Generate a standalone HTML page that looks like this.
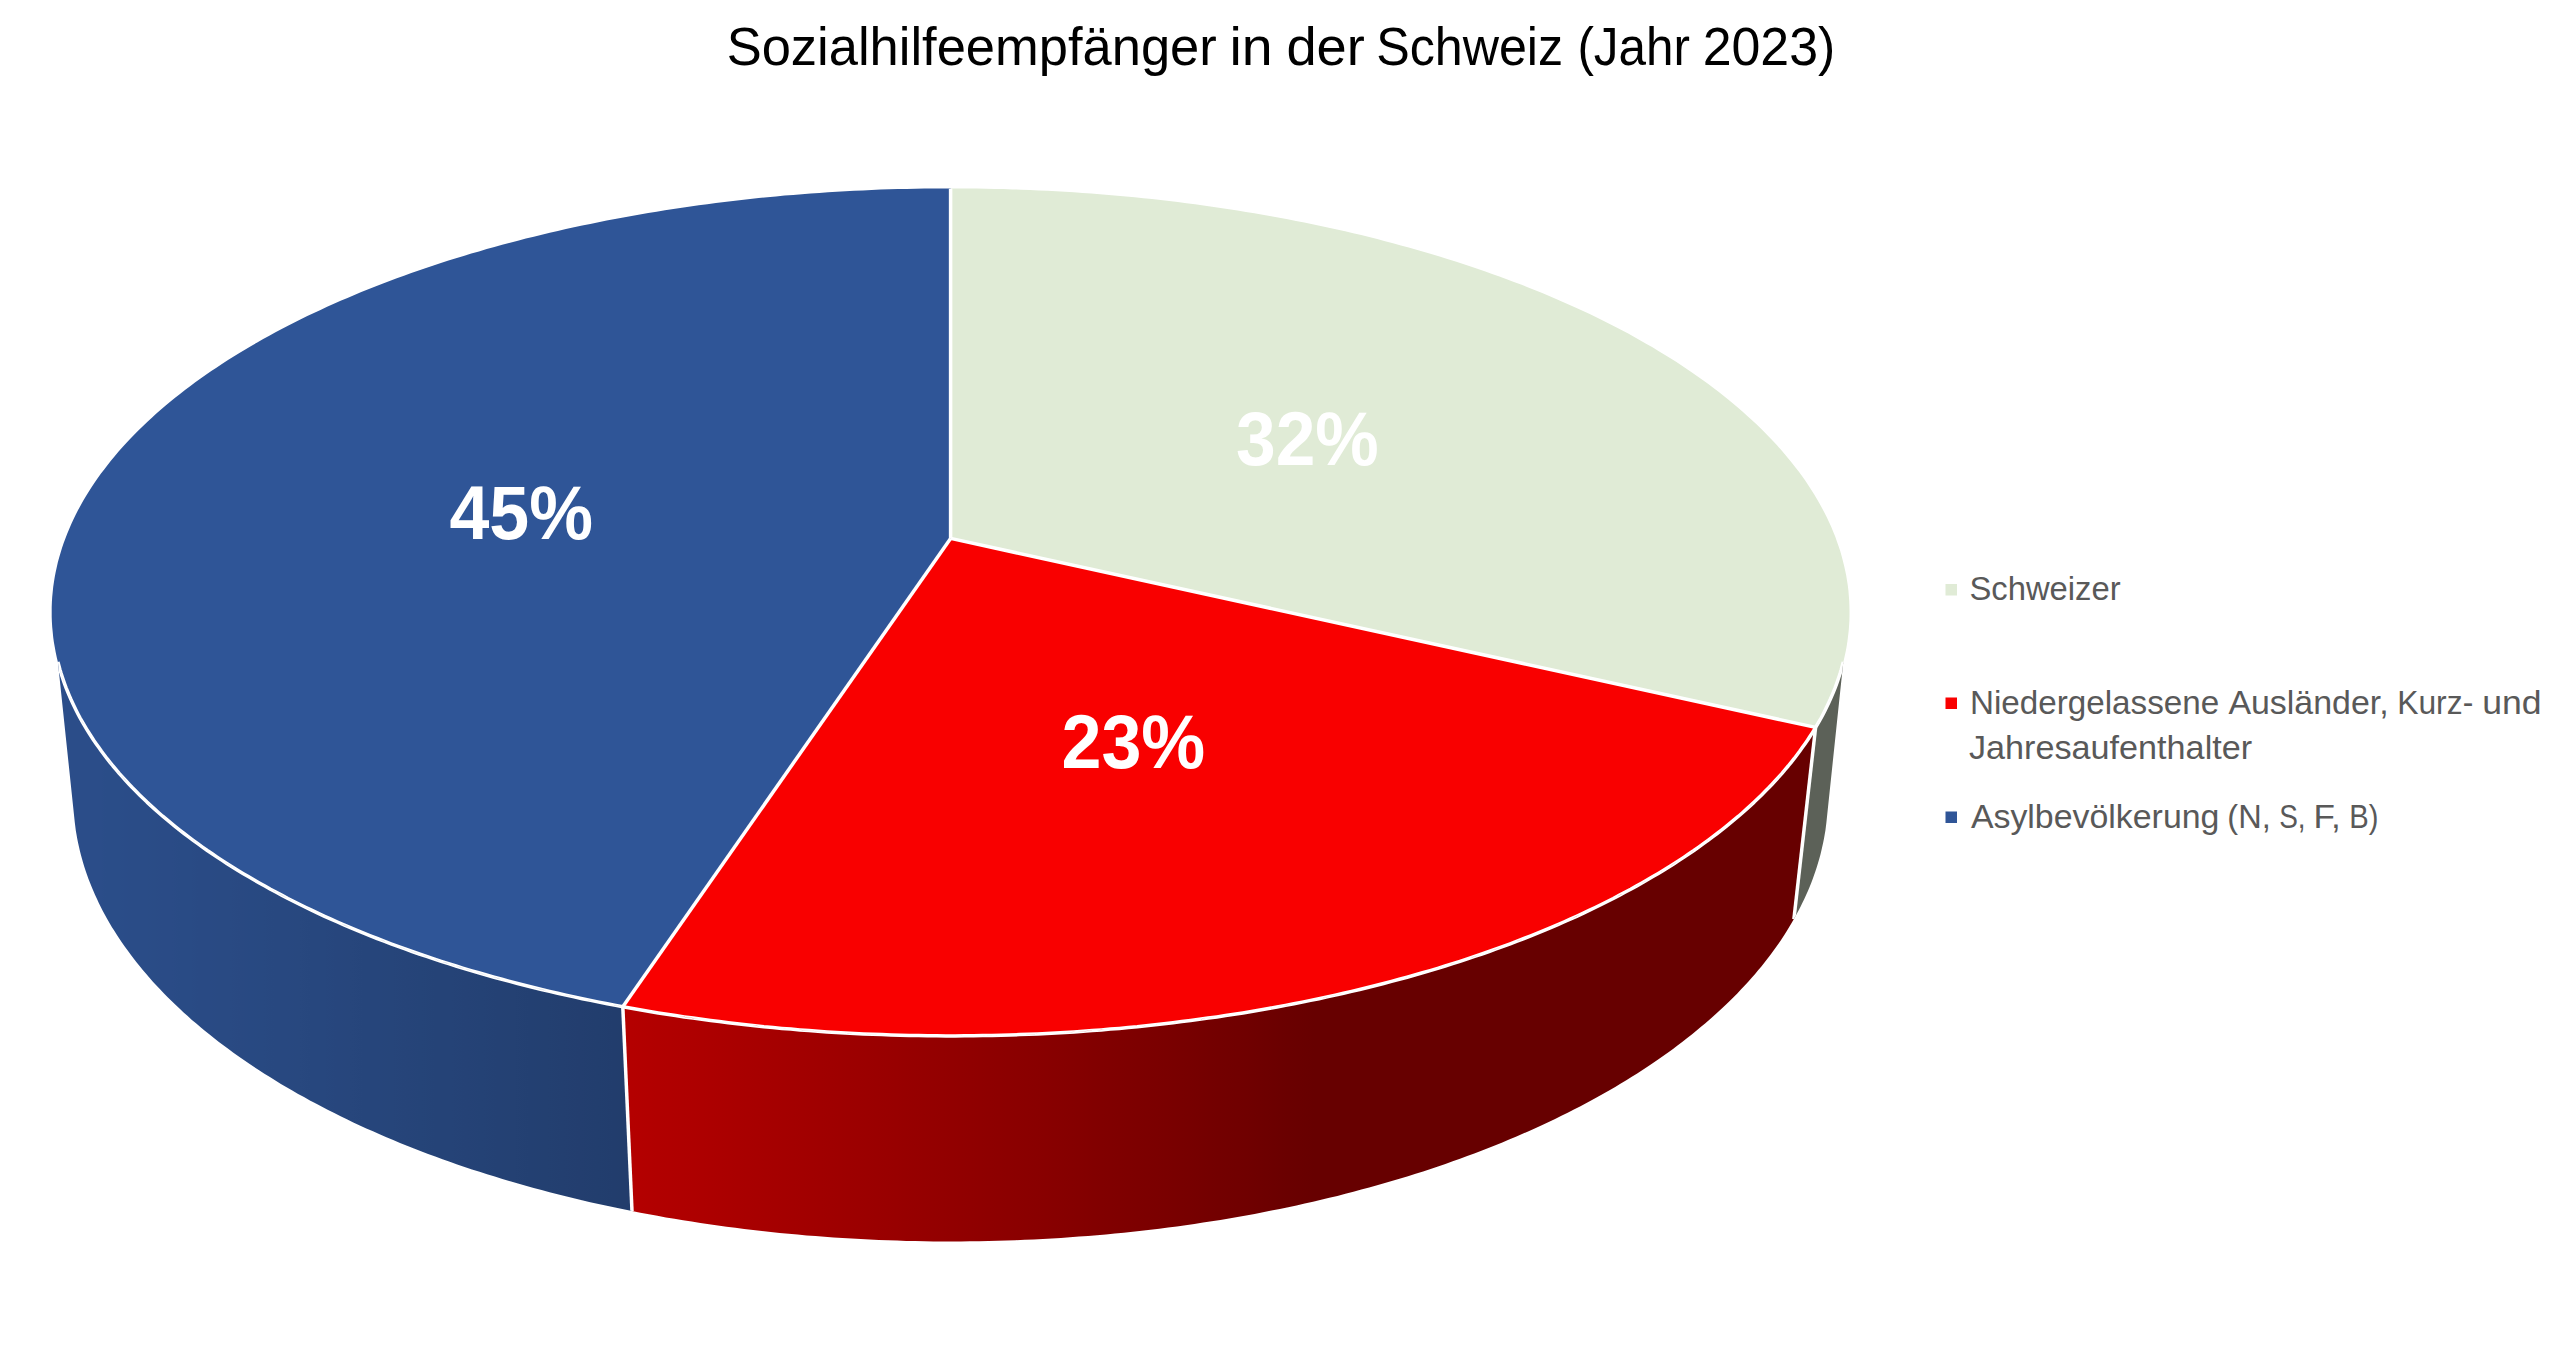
<!DOCTYPE html>
<html><head><meta charset="utf-8">
<style>
html,body{margin:0;padding:0;background:#fff;width:2560px;height:1345px;overflow:hidden}
svg{display:block;position:absolute;left:0;top:0}
text{font-family:"Liberation Sans",sans-serif}
</style></head>
<body>
<svg width="2560" height="1345" viewBox="0 0 2560 1345">
<defs><linearGradient id="g_green" gradientUnits="userSpaceOnUse" x1="1815.6" y1="0" x2="1848.2" y2="0"><stop offset="0.0000" stop-color="#5c6158"/><stop offset="0.0691" stop-color="#5c6158"/><stop offset="0.1359" stop-color="#5c6158"/><stop offset="0.2002" stop-color="#5c6158"/><stop offset="0.2620" stop-color="#5c6158"/><stop offset="0.3215" stop-color="#5c6158"/><stop offset="0.3785" stop-color="#5c6158"/><stop offset="0.4331" stop-color="#5c6158"/><stop offset="0.4853" stop-color="#5c6158"/><stop offset="0.5352" stop-color="#5c6158"/><stop offset="0.5826" stop-color="#5c6158"/><stop offset="0.6277" stop-color="#5c6158"/><stop offset="0.6704" stop-color="#5c6158"/><stop offset="0.7107" stop-color="#5c6158"/><stop offset="0.7486" stop-color="#5c6158"/><stop offset="0.7842" stop-color="#5c6158"/><stop offset="0.8175" stop-color="#5c6158"/><stop offset="0.8484" stop-color="#5c6158"/><stop offset="0.8770" stop-color="#5c6158"/><stop offset="0.9032" stop-color="#5c6158"/><stop offset="0.9272" stop-color="#5c6158"/><stop offset="0.9488" stop-color="#5c6158"/><stop offset="0.9682" stop-color="#5c6158"/><stop offset="0.9852" stop-color="#5c6158"/><stop offset="1.0000" stop-color="#5c6158"/><stop offset="1.0000" stop-color="#5c6158"/></linearGradient><linearGradient id="g_red" gradientUnits="userSpaceOnUse" x1="622.8" y1="0" x2="1815.6" y2="0"><stop offset="0.0000" stop-color="#b50000"/><stop offset="0.0293" stop-color="#b10000"/><stop offset="0.0590" stop-color="#ae0000"/><stop offset="0.0892" stop-color="#aa0000"/><stop offset="0.1197" stop-color="#a60000"/><stop offset="0.1506" stop-color="#a20000"/><stop offset="0.1817" stop-color="#9e0000"/><stop offset="0.2129" stop-color="#9a0000"/><stop offset="0.2443" stop-color="#960000"/><stop offset="0.2758" stop-color="#920000"/><stop offset="0.3073" stop-color="#8e0000"/><stop offset="0.3387" stop-color="#8a0000"/><stop offset="0.3699" stop-color="#860000"/><stop offset="0.4010" stop-color="#810000"/><stop offset="0.4318" stop-color="#7d0000"/><stop offset="0.4624" stop-color="#790000"/><stop offset="0.4925" stop-color="#740000"/><stop offset="0.5222" stop-color="#700000"/><stop offset="0.5515" stop-color="#6b0000"/><stop offset="0.5801" stop-color="#670000"/><stop offset="0.6083" stop-color="#670000"/><stop offset="0.6357" stop-color="#670000"/><stop offset="0.6625" stop-color="#670000"/><stop offset="0.6885" stop-color="#670000"/><stop offset="0.7138" stop-color="#670000"/><stop offset="0.7383" stop-color="#670000"/><stop offset="0.7619" stop-color="#670000"/><stop offset="0.7846" stop-color="#670000"/><stop offset="0.8064" stop-color="#670000"/><stop offset="0.8273" stop-color="#670000"/><stop offset="0.8472" stop-color="#670000"/><stop offset="0.8661" stop-color="#670000"/><stop offset="0.8840" stop-color="#670000"/><stop offset="0.9009" stop-color="#670000"/><stop offset="0.9167" stop-color="#670000"/><stop offset="0.9315" stop-color="#670000"/><stop offset="0.9453" stop-color="#670000"/><stop offset="0.9580" stop-color="#670000"/><stop offset="0.9696" stop-color="#670000"/><stop offset="0.9801" stop-color="#670000"/><stop offset="0.9896" stop-color="#670000"/><stop offset="0.9981" stop-color="#670000"/><stop offset="1.0000" stop-color="#670000"/></linearGradient><linearGradient id="g_blue" gradientUnits="userSpaceOnUse" x1="53.0" y1="0" x2="622.8" y2="0"><stop offset="0.0000" stop-color="#2b4d89"/><stop offset="0.0018" stop-color="#2b4d89"/><stop offset="0.0041" stop-color="#2b4d89"/><stop offset="0.0070" stop-color="#2b4d89"/><stop offset="0.0104" stop-color="#2b4d89"/><stop offset="0.0143" stop-color="#2b4d89"/><stop offset="0.0188" stop-color="#2b4d89"/><stop offset="0.0238" stop-color="#2b4d89"/><stop offset="0.0293" stop-color="#2b4d89"/><stop offset="0.0354" stop-color="#2b4d89"/><stop offset="0.0420" stop-color="#2b4d89"/><stop offset="0.0492" stop-color="#2b4d89"/><stop offset="0.0569" stop-color="#2b4d89"/><stop offset="0.0652" stop-color="#2b4d89"/><stop offset="0.0740" stop-color="#2b4d89"/><stop offset="0.0834" stop-color="#2b4d89"/><stop offset="0.0934" stop-color="#2a4d88"/><stop offset="0.1039" stop-color="#2a4d88"/><stop offset="0.1150" stop-color="#2a4d88"/><stop offset="0.1266" stop-color="#2a4c88"/><stop offset="0.1388" stop-color="#2a4c87"/><stop offset="0.1516" stop-color="#2a4c87"/><stop offset="0.1649" stop-color="#2a4c87"/><stop offset="0.1788" stop-color="#2a4c86"/><stop offset="0.1932" stop-color="#2a4b86"/><stop offset="0.2082" stop-color="#2a4b86"/><stop offset="0.2238" stop-color="#294b85"/><stop offset="0.2399" stop-color="#294b85"/><stop offset="0.2565" stop-color="#294a84"/><stop offset="0.2737" stop-color="#294a84"/><stop offset="0.2915" stop-color="#294a83"/><stop offset="0.3098" stop-color="#294a83"/><stop offset="0.3286" stop-color="#294982"/><stop offset="0.3480" stop-color="#284982"/><stop offset="0.3678" stop-color="#284981"/><stop offset="0.3883" stop-color="#284880"/><stop offset="0.4092" stop-color="#284880"/><stop offset="0.4306" stop-color="#28487f"/><stop offset="0.4526" stop-color="#27477e"/><stop offset="0.4750" stop-color="#27477e"/><stop offset="0.4980" stop-color="#27467d"/><stop offset="0.5214" stop-color="#27467c"/><stop offset="0.5453" stop-color="#26457b"/><stop offset="0.5697" stop-color="#26457b"/><stop offset="0.5945" stop-color="#26457a"/><stop offset="0.6198" stop-color="#264479"/><stop offset="0.6455" stop-color="#254478"/><stop offset="0.6717" stop-color="#254377"/><stop offset="0.6982" stop-color="#254377"/><stop offset="0.7252" stop-color="#254276"/><stop offset="0.7526" stop-color="#244275"/><stop offset="0.7804" stop-color="#244174"/><stop offset="0.8086" stop-color="#244173"/><stop offset="0.8371" stop-color="#234072"/><stop offset="0.8660" stop-color="#234071"/><stop offset="0.8952" stop-color="#233f70"/><stop offset="0.9248" stop-color="#233e6f"/><stop offset="0.9546" stop-color="#223e6e"/><stop offset="0.9848" stop-color="#223d6d"/><stop offset="1.0000" stop-color="#223d6c"/></linearGradient><clipPath id="pieclip"><polygon points="950.6,188.4 957.2,188.4 963.8,188.4 970.3,188.5 976.9,188.5 983.5,188.6 990.1,188.8 996.7,188.9 1003.2,189.1 1009.8,189.3 1016.4,189.5 1022.9,189.7 1029.5,190.0 1036.0,190.3 1042.6,190.6 1049.2,190.9 1055.7,191.3 1062.2,191.6 1068.8,192.0 1075.3,192.5 1081.8,192.9 1088.4,193.4 1094.9,193.9 1101.4,194.4 1107.9,194.9 1114.4,195.4 1120.9,196.0 1127.4,196.6 1133.8,197.3 1140.3,197.9 1146.8,198.6 1153.2,199.3 1159.7,200.0 1166.1,200.7 1172.5,201.5 1178.9,202.3 1185.3,203.1 1191.7,203.9 1198.1,204.7 1204.5,205.6 1210.8,206.5 1217.2,207.4 1223.5,208.4 1229.9,209.3 1236.2,210.3 1242.5,211.3 1248.8,212.3 1255.0,213.4 1261.3,214.5 1267.6,215.6 1273.8,216.7 1280.0,217.8 1286.2,219.0 1292.4,220.2 1298.6,221.4 1304.7,222.6 1310.9,223.9 1317.0,225.2 1323.1,226.5 1329.2,227.8 1335.3,229.1 1341.4,230.5 1347.4,231.9 1353.4,233.3 1359.4,234.7 1365.4,236.2 1371.4,237.6 1377.3,239.1 1383.3,240.7 1389.2,242.2 1395.0,243.8 1400.9,245.4 1406.8,247.0 1412.6,248.6 1418.4,250.3 1424.2,251.9 1429.9,253.6 1435.7,255.3 1441.4,257.1 1447.1,258.8 1452.7,260.6 1458.4,262.4 1464.0,264.3 1469.6,266.1 1475.2,268.0 1480.7,269.9 1486.2,271.8 1491.7,273.7 1497.2,275.7 1502.6,277.7 1508.0,279.7 1513.4,281.7 1518.8,283.7 1524.1,285.8 1529.4,287.9 1534.7,290.0 1539.9,292.1 1545.1,294.3 1550.3,296.4 1555.4,298.6 1560.6,300.8 1565.7,303.1 1570.7,305.3 1575.7,307.6 1580.7,309.9 1585.7,312.2 1590.6,314.5 1595.5,316.9 1600.4,319.3 1605.2,321.7 1610.0,324.1 1614.7,326.5 1619.5,329.0 1624.2,331.5 1628.8,334.0 1633.4,336.5 1638.0,339.0 1642.5,341.6 1647.0,344.2 1651.5,346.8 1655.9,349.4 1660.3,352.0 1664.7,354.7 1669.0,357.4 1673.2,360.1 1677.5,362.8 1681.6,365.5 1685.8,368.3 1689.9,371.0 1694.0,373.8 1698.0,376.6 1702.0,379.5 1705.9,382.3 1709.8,385.2 1713.6,388.1 1717.4,391.0 1721.2,393.9 1724.9,396.8 1728.6,399.8 1732.2,402.8 1735.8,405.8 1739.3,408.8 1742.8,411.8 1746.2,414.9 1749.6,417.9 1752.9,421.0 1756.2,424.1 1759.4,427.2 1762.6,430.3 1765.8,433.5 1768.9,436.7 1771.9,439.8 1774.9,443.0 1777.8,446.2 1780.7,449.5 1783.5,452.7 1786.3,456.0 1789.0,459.3 1791.7,462.5 1794.3,465.8 1796.8,469.2 1799.3,472.5 1801.8,475.9 1804.2,479.2 1806.5,482.6 1808.8,486.0 1811.0,489.4 1813.2,492.8 1815.3,496.2 1817.3,499.7 1819.3,503.2 1821.2,506.6 1823.1,510.1 1824.9,513.6 1826.7,517.1 1828.3,520.6 1830.0,524.2 1831.5,527.7 1833.0,531.3 1834.5,534.9 1835.8,538.4 1837.2,542.0 1838.4,545.6 1839.6,549.2 1840.7,552.9 1841.8,556.5 1842.8,560.1 1843.7,563.8 1844.5,567.5 1845.3,571.1 1846.0,574.8 1846.7,578.5 1847.3,582.2 1847.8,585.9 1848.3,589.6 1848.7,593.3 1849.0,597.1 1849.2,600.8 1849.4,604.5 1849.5,608.3 1849.5,612.0 1849.5,615.8 1849.4,619.5 1849.2,623.3 1849.0,627.1 1848.7,630.9 1848.3,634.6 1847.8,638.4 1847.3,642.2 1846.7,646.0 1846.0,649.8 1845.2,653.6 1844.4,657.4 1843.5,661.2 1842.5,665.0 1841.5,668.8 1840.3,672.6 1839.1,676.5 1837.8,680.3 1836.5,684.1 1835.1,687.9 1833.6,691.7 1832.0,695.5 1830.3,699.3 1828.6,703.1 1826.8,706.9 1824.9,710.7 1822.9,714.5 1820.9,718.3 1818.7,722.1 1816.5,725.9 1814.3,729.7 1811.9,733.5 1809.5,737.2 1807.0,741.0 1804.4,744.8 1801.7,748.5 1799.0,752.3 1796.1,756.0 1793.2,759.8 1790.2,763.5 1787.2,767.2 1784.0,770.9 1780.8,774.6 1777.5,778.3 1774.1,782.0 1770.7,785.7 1767.2,789.3 1763.5,793.0 1759.9,796.6 1756.1,800.3 1752.2,803.9 1748.3,807.5 1744.3,811.1 1740.2,814.7 1736.1,818.2 1731.8,821.8 1727.5,825.3 1723.1,828.8 1718.6,832.3 1714.1,835.8 1709.4,839.3 1704.7,842.8 1699.9,846.2 1695.1,849.6 1690.1,853.0 1685.1,856.4 1680.0,859.8 1674.9,863.1 1669.6,866.5 1664.3,869.8 1658.9,873.1 1653.5,876.3 1647.9,879.6 1642.3,882.8 1636.6,886.0 1630.8,889.2 1625.0,892.3 1619.1,895.4 1613.1,898.5 1607.1,901.6 1600.9,904.7 1594.7,907.7 1588.5,910.7 1582.1,913.7 1575.7,916.6 1569.3,919.6 1562.7,922.5 1556.1,925.3 1549.4,928.2 1542.7,931.0 1535.9,933.8 1529.0,936.5 1522.1,939.2 1515.1,941.9 1508.0,944.6 1500.8,947.2 1493.7,949.8 1486.4,952.4 1479.1,954.9 1471.7,957.4 1464.3,959.9 1456.8,962.3 1449.2,964.7 1441.6,967.1 1433.9,969.4 1426.2,971.7 1418.4,974.0 1410.5,976.2 1402.7,978.4 1394.7,980.6 1386.7,982.7 1378.7,984.8 1370.6,986.8 1362.4,988.8 1354.2,990.8 1346.0,992.7 1337.7,994.6 1329.3,996.4 1320.9,998.3 1312.5,1000.0 1304.0,1001.8 1295.5,1003.5 1287.0,1005.1 1278.4,1006.7 1269.7,1008.3 1261.0,1009.8 1252.3,1011.3 1243.6,1012.8 1234.8,1014.2 1226.0,1015.5 1217.1,1016.8 1208.2,1018.1 1199.3,1019.4 1190.4,1020.5 1181.4,1021.7 1172.4,1022.8 1163.3,1023.9 1154.3,1024.9 1145.2,1025.8 1136.1,1026.8 1127.0,1027.7 1117.8,1028.5 1108.6,1029.3 1099.4,1030.0 1090.2,1030.7 1081.0,1031.4 1071.7,1032.0 1062.5,1032.6 1053.2,1033.1 1043.9,1033.6 1034.6,1034.0 1025.3,1034.4 1016.0,1034.8 1006.7,1035.1 997.3,1035.3 988.0,1035.5 978.6,1035.7 969.3,1035.8 960.0,1035.9 950.6,1035.9 941.2,1035.9 931.9,1035.8 922.6,1035.7 913.2,1035.5 903.9,1035.3 894.5,1035.1 885.2,1034.8 875.9,1034.4 866.6,1034.0 857.3,1033.6 848.0,1033.1 838.7,1032.6 829.5,1032.0 820.2,1031.4 811.0,1030.7 801.8,1030.0 792.6,1029.3 783.4,1028.5 774.2,1027.7 765.1,1026.8 756.0,1025.8 746.9,1024.9 737.9,1023.9 728.8,1022.8 719.8,1021.7 710.8,1020.5 701.9,1019.4 693.0,1018.1 684.1,1016.8 675.2,1015.5 666.4,1014.2 657.6,1012.8 648.9,1011.3 640.2,1009.8 631.5,1008.3 622.8,1006.7 614.2,1005.1 605.7,1003.5 597.2,1001.8 588.7,1000.0 580.3,998.3 571.9,996.4 563.5,994.6 555.2,992.7 547.0,990.8 538.8,988.8 530.6,986.8 522.5,984.8 514.5,982.7 506.5,980.6 498.5,978.4 490.7,976.2 482.8,974.0 475.0,971.7 467.3,969.4 459.6,967.1 452.0,964.7 444.4,962.3 436.9,959.9 429.5,957.4 422.1,954.9 414.8,952.4 407.5,949.8 400.4,947.2 393.2,944.6 386.1,941.9 379.1,939.2 372.2,936.5 365.3,933.8 358.5,931.0 351.8,928.2 345.1,925.3 338.5,922.5 331.9,919.6 325.5,916.6 319.1,913.7 312.7,910.7 306.5,907.7 300.3,904.7 294.1,901.6 288.1,898.5 282.1,895.4 276.2,892.3 270.4,889.2 264.6,886.0 258.9,882.8 253.3,879.6 247.7,876.3 242.3,873.1 236.9,869.8 231.6,866.5 226.3,863.1 221.2,859.8 216.1,856.4 211.1,853.0 206.1,849.6 201.3,846.2 196.5,842.8 191.8,839.3 187.1,835.8 182.6,832.3 178.1,828.8 173.7,825.3 169.4,821.8 165.1,818.2 161.0,814.7 156.9,811.1 152.9,807.5 149.0,803.9 145.1,800.3 141.3,796.6 137.7,793.0 134.0,789.3 130.5,785.7 127.1,782.0 123.7,778.3 120.4,774.6 117.2,770.9 114.0,767.2 111.0,763.5 108.0,759.8 105.1,756.0 102.2,752.3 99.5,748.5 96.8,744.8 94.2,741.0 91.7,737.2 89.3,733.5 86.9,729.7 84.7,725.9 82.5,722.1 80.3,718.3 78.3,714.5 76.3,710.7 74.4,706.9 72.6,703.1 70.9,699.3 69.2,695.5 67.6,691.7 66.1,687.9 64.7,684.1 63.4,680.3 62.1,676.5 60.9,672.6 59.7,668.8 58.7,665.0 57.7,661.2 56.8,657.4 56.0,653.6 55.2,649.8 54.5,646.0 53.9,642.2 53.4,638.4 52.9,634.6 52.5,630.9 52.2,627.1 52.0,623.3 51.8,619.5 51.7,615.8 51.7,612.0 51.7,608.3 51.8,604.5 52.0,600.8 52.2,597.1 52.5,593.3 52.9,589.6 53.4,585.9 53.9,582.2 54.5,578.5 55.2,574.8 55.9,571.1 56.7,567.5 57.5,563.8 58.4,560.1 59.4,556.5 60.5,552.9 61.6,549.2 62.8,545.6 64.0,542.0 65.4,538.4 66.7,534.9 68.2,531.3 69.7,527.7 71.2,524.2 72.9,520.6 74.5,517.1 76.3,513.6 78.1,510.1 80.0,506.6 81.9,503.2 83.9,499.7 85.9,496.2 88.0,492.8 90.2,489.4 92.4,486.0 94.7,482.6 97.0,479.2 99.4,475.9 101.9,472.5 104.4,469.2 106.9,465.8 109.5,462.5 112.2,459.3 114.9,456.0 117.7,452.7 120.5,449.5 123.4,446.2 126.3,443.0 129.3,439.8 132.3,436.7 135.4,433.5 138.6,430.3 141.8,427.2 145.0,424.1 148.3,421.0 151.6,417.9 155.0,414.9 158.4,411.8 161.9,408.8 165.4,405.8 169.0,402.8 172.6,399.8 176.3,396.8 180.0,393.9 183.8,391.0 187.6,388.1 191.4,385.2 195.3,382.3 199.2,379.5 203.2,376.6 207.2,373.8 211.3,371.0 215.4,368.3 219.6,365.5 223.7,362.8 228.0,360.1 232.2,357.4 236.5,354.7 240.9,352.0 245.3,349.4 249.7,346.8 254.2,344.2 258.7,341.6 263.2,339.0 267.8,336.5 272.4,334.0 277.0,331.5 281.7,329.0 286.5,326.5 291.2,324.1 296.0,321.7 300.8,319.3 305.7,316.9 310.6,314.5 315.5,312.2 320.5,309.9 325.5,307.6 330.5,305.3 335.5,303.1 340.6,300.8 345.8,298.6 350.9,296.4 356.1,294.3 361.3,292.1 366.5,290.0 371.8,287.9 377.1,285.8 382.4,283.7 387.8,281.7 393.2,279.7 398.6,277.7 404.0,275.7 409.5,273.7 415.0,271.8 420.5,269.9 426.0,268.0 431.6,266.1 437.2,264.3 442.8,262.4 448.5,260.6 454.1,258.8 459.8,257.1 465.5,255.3 471.3,253.6 477.0,251.9 482.8,250.3 488.6,248.6 494.4,247.0 500.3,245.4 506.2,243.8 512.0,242.2 517.9,240.7 523.9,239.1 529.8,237.6 535.8,236.2 541.8,234.7 547.8,233.3 553.8,231.9 559.8,230.5 565.9,229.1 572.0,227.8 578.1,226.5 584.2,225.2 590.3,223.9 596.5,222.6 602.6,221.4 608.8,220.2 615.0,219.0 621.2,217.8 627.4,216.7 633.6,215.6 639.9,214.5 646.2,213.4 652.4,212.3 658.7,211.3 665.0,210.3 671.3,209.3 677.7,208.4 684.0,207.4 690.4,206.5 696.7,205.6 703.1,204.7 709.5,203.9 715.9,203.1 722.3,202.3 728.7,201.5 735.1,200.7 741.5,200.0 748.0,199.3 754.4,198.6 760.9,197.9 767.4,197.3 773.8,196.6 780.3,196.0 786.8,195.4 793.3,194.9 799.8,194.4 806.3,193.9 812.8,193.4 819.4,192.9 825.9,192.5 832.4,192.0 839.0,191.6 845.5,191.3 852.0,190.9 858.6,190.6 865.2,190.3 871.7,190.0 878.3,189.7 884.8,189.5 891.4,189.3 898.0,189.1 904.5,188.9 911.1,188.8 917.7,188.6 924.3,188.5 930.9,188.5 937.4,188.4 944.0,188.4 950.6,188.4"/><polygon points="1843.3,661.9 1842.6,664.6 1841.9,667.4 1841.1,670.1 1840.3,672.8 1839.4,675.6 1838.5,678.3 1837.6,681.0 1836.6,683.8 1835.6,686.5 1834.5,689.2 1833.4,692.0 1832.3,694.7 1831.1,697.4 1829.9,700.2 1828.7,702.9 1827.4,705.6 1826.1,708.3 1824.7,711.1 1823.3,713.8 1821.8,716.5 1820.3,719.2 1818.8,722.0 1817.2,724.7 1815.6,727.4 1793.9,919.1 1796.1,915.1 1798.3,911.1 1800.4,907.1 1802.3,903.0 1804.3,899.0 1806.1,895.0 1807.9,891.0 1809.6,886.9 1811.2,882.9 1812.7,878.9 1814.2,874.8 1815.6,870.8 1816.9,866.8 1818.1,862.7 1819.3,858.7 1820.4,854.7 1821.4,850.6 1822.3,846.6 1823.2,842.6 1824.0,838.6 1824.7,834.5 1825.4,830.5 1825.9,826.5 1826.4,822.5"/><polygon points="1815.6,727.4 1813.3,731.2 1810.9,735.0 1808.5,738.8 1805.9,742.6 1803.3,746.3 1800.6,750.1 1797.8,753.9 1794.9,757.6 1791.9,761.4 1788.9,765.1 1785.8,768.8 1782.6,772.6 1779.4,776.3 1776.0,780.0 1772.6,783.7 1769.1,787.4 1765.5,791.0 1761.8,794.7 1758.1,798.3 1754.3,802.0 1750.4,805.6 1746.4,809.2 1742.3,812.8 1738.2,816.4 1734.0,820.0 1729.7,823.5 1725.3,827.1 1720.9,830.6 1716.3,834.1 1711.7,837.6 1707.0,841.1 1702.3,844.5 1697.4,848.0 1692.5,851.4 1687.5,854.8 1682.4,858.2 1677.3,861.6 1672.1,864.9 1666.8,868.3 1661.4,871.6 1655.9,874.8 1650.4,878.1 1644.8,881.4 1639.1,884.6 1633.4,887.8 1627.5,890.9 1621.6,894.1 1615.7,897.2 1609.6,900.3 1603.5,903.4 1597.3,906.5 1591.1,909.5 1584.7,912.5 1578.3,915.5 1571.9,918.4 1565.3,921.3 1558.7,924.2 1552.0,927.1 1545.3,929.9 1538.5,932.7 1531.6,935.5 1524.7,938.2 1517.7,940.9 1510.6,943.6 1503.5,946.3 1496.2,948.9 1489.0,951.5 1481.7,954.0 1474.3,956.6 1466.8,959.0 1459.3,961.5 1451.8,963.9 1444.1,966.3 1436.4,968.7 1428.7,971.0 1420.9,973.3 1413.1,975.5 1405.2,977.7 1397.2,979.9 1389.2,982.0 1381.1,984.1 1373.0,986.2 1364.8,988.2 1356.6,990.2 1348.4,992.1 1340.1,994.1 1331.7,995.9 1323.3,997.8 1314.8,999.5 1306.3,1001.3 1297.8,1003.0 1289.2,1004.7 1280.6,1006.3 1272.0,1007.9 1263.3,1009.4 1254.5,1010.9 1245.7,1012.4 1236.9,1013.8 1228.1,1015.2 1219.2,1016.5 1210.3,1017.8 1201.4,1019.1 1192.4,1020.3 1183.4,1021.4 1174.3,1022.6 1165.3,1023.6 1156.2,1024.7 1147.1,1025.6 1137.9,1026.6 1128.8,1027.5 1119.6,1028.3 1110.4,1029.1 1101.2,1029.9 1091.9,1030.6 1082.7,1031.3 1073.4,1031.9 1064.1,1032.5 1054.8,1033.0 1045.5,1033.5 1036.1,1034.0 1026.8,1034.4 1017.4,1034.7 1008.1,1035.0 998.7,1035.3 989.4,1035.5 980.0,1035.7 970.6,1035.8 961.2,1035.9 951.8,1035.9 942.4,1035.9 933.1,1035.8 923.7,1035.7 914.3,1035.5 904.9,1035.3 895.6,1035.1 886.2,1034.8 876.8,1034.5 867.5,1034.1 858.2,1033.6 848.8,1033.2 839.5,1032.6 830.2,1032.1 821.0,1031.5 811.7,1030.8 802.4,1030.1 793.2,1029.3 784.0,1028.6 774.8,1027.7 765.6,1026.8 756.5,1025.9 747.4,1024.9 738.3,1023.9 729.2,1022.8 720.2,1021.7 711.2,1020.6 702.2,1019.4 693.2,1018.2 684.3,1016.9 675.4,1015.5 666.6,1014.2 657.8,1012.8 649.0,1011.3 640.2,1009.8 631.5,1008.3 622.8,1006.7 632.0,1211.0 640.4,1212.7 648.9,1214.3 657.4,1215.8 665.9,1217.4 674.5,1218.8 683.1,1220.2 691.7,1221.6 700.4,1223.0 709.1,1224.2 717.9,1225.5 726.6,1226.7 735.4,1227.8 744.2,1228.9 753.1,1230.0 761.9,1231.0 770.8,1232.0 779.7,1232.9 788.7,1233.8 797.6,1234.6 806.6,1235.4 815.6,1236.1 824.6,1236.8 833.6,1237.5 842.6,1238.1 851.7,1238.6 860.8,1239.1 869.8,1239.5 878.9,1239.9 888.0,1240.3 897.1,1240.6 906.2,1240.9 915.3,1241.1 924.4,1241.2 933.5,1241.4 942.7,1241.4 951.8,1241.4 960.9,1241.4 970.0,1241.3 979.1,1241.2 988.3,1241.0 997.4,1240.8 1006.5,1240.5 1015.6,1240.2 1024.7,1239.8 1033.7,1239.4 1042.8,1239.0 1051.9,1238.5 1060.9,1237.9 1069.9,1237.3 1079.0,1236.6 1088.0,1235.9 1097.0,1235.2 1105.9,1234.4 1114.9,1233.6 1123.8,1232.7 1132.7,1231.7 1141.6,1230.8 1150.4,1229.7 1159.3,1228.7 1168.1,1227.5 1176.9,1226.4 1185.6,1225.2 1194.4,1223.9 1203.1,1222.6 1211.7,1221.3 1220.4,1219.9 1229.0,1218.4 1237.5,1217.0 1246.1,1215.4 1254.6,1213.9 1263.0,1212.3 1271.4,1210.6 1279.8,1208.9 1288.2,1207.2 1296.5,1205.4 1304.7,1203.6 1313.0,1201.7 1321.1,1199.8 1329.3,1197.8 1337.4,1195.9 1345.4,1193.8 1353.4,1191.7 1361.3,1189.6 1369.2,1187.5 1377.1,1185.3 1384.9,1183.1 1392.6,1180.8 1400.3,1178.5 1408.0,1176.2 1415.6,1173.8 1423.1,1171.4 1430.6,1168.9 1438.0,1166.4 1445.4,1163.9 1452.7,1161.3 1460.0,1158.7 1467.2,1156.1 1474.3,1153.4 1481.4,1150.7 1488.4,1148.0 1495.4,1145.2 1502.3,1142.4 1509.1,1139.6 1515.9,1136.7 1522.6,1133.8 1529.2,1130.9 1535.8,1128.0 1542.3,1125.0 1548.7,1121.9 1555.1,1118.9 1561.4,1115.8 1567.7,1112.7 1573.9,1109.6 1580.0,1106.4 1586.0,1103.2 1592.0,1100.0 1597.9,1096.8 1603.7,1093.5 1609.5,1090.2 1615.2,1086.9 1620.8,1083.6 1626.3,1080.2 1631.8,1076.8 1637.2,1073.4 1642.5,1070.0 1647.8,1066.5 1653.0,1063.0 1658.1,1059.5 1663.1,1056.0 1668.1,1052.5 1673.0,1048.9 1677.8,1045.3 1682.5,1041.7 1687.2,1038.1 1691.8,1034.5 1696.3,1030.8 1700.7,1027.1 1705.1,1023.5 1709.4,1019.7 1713.6,1016.0 1717.7,1012.3 1721.8,1008.5 1725.8,1004.8 1729.7,1001.0 1733.5,997.2 1737.3,993.4 1740.9,989.6 1744.5,985.7 1748.0,981.9 1751.5,978.0 1754.9,974.2 1758.1,970.3 1761.4,966.4 1764.5,962.5 1767.6,958.6 1770.5,954.7 1773.4,950.8 1776.3,946.8 1779.0,942.9 1781.7,938.9 1784.3,935.0 1786.8,931.0 1789.2,927.0 1791.6,923.1 1793.9,919.1"/><polygon points="622.8,1006.7 614.7,1005.2 606.6,1003.6 598.5,1002.0 590.5,1000.4 582.5,998.7 574.5,997.0 566.6,995.3 558.7,993.5 550.9,991.7 543.1,989.9 535.4,988.0 527.7,986.1 520.0,984.1 512.4,982.1 504.8,980.1 497.3,978.1 489.8,976.0 482.4,973.9 475.0,971.7 467.7,969.6 460.5,967.4 453.2,965.1 446.1,962.9 438.9,960.6 431.9,958.2 424.9,955.9 417.9,953.5 411.0,951.1 404.2,948.6 397.4,946.1 390.6,943.6 384.0,941.1 377.3,938.5 370.8,936.0 364.3,933.3 357.8,930.7 351.4,928.0 345.1,925.4 338.9,922.6 332.7,919.9 326.5,917.1 320.4,914.3 314.4,911.5 308.5,908.7 302.6,905.8 296.7,902.9 291.0,900.0 285.3,897.1 279.6,894.1 274.1,891.2 268.6,888.2 263.1,885.2 257.8,882.1 252.5,879.1 247.2,876.0 242.0,872.9 236.9,869.8 231.9,866.7 226.9,863.5 222.0,860.3 217.2,857.2 212.4,854.0 207.7,850.7 203.1,847.5 198.5,844.3 194.0,841.0 189.6,837.7 185.3,834.4 181.0,831.1 176.8,827.8 172.6,824.4 168.5,821.1 164.5,817.7 160.6,814.3 156.7,810.9 152.9,807.5 149.2,804.1 145.6,800.7 142.0,797.3 138.5,793.8 135.0,790.3 131.7,786.9 128.4,783.4 125.1,779.9 122.0,776.4 118.9,772.9 115.9,769.4 112.9,765.9 110.0,762.4 107.2,758.8 104.5,755.3 101.8,751.7 99.3,748.2 96.7,744.6 94.3,741.1 91.9,737.5 89.6,733.9 87.3,730.3 85.2,726.7 83.1,723.2 81.0,719.6 79.1,716.0 77.2,712.4 75.4,708.8 73.6,705.2 71.9,701.6 70.3,698.0 68.7,694.4 67.3,690.8 65.9,687.1 64.5,683.5 63.2,679.9 62.0,676.3 60.9,672.7 59.8,669.1 58.8,665.5 57.9,661.9 74.8,822.5 75.3,826.5 75.8,830.5 76.5,834.5 77.2,838.5 78.0,842.5 78.9,846.6 79.8,850.6 80.8,854.6 81.9,858.6 83.1,862.7 84.3,866.7 85.6,870.7 87.0,874.7 88.4,878.8 90.0,882.8 91.6,886.8 93.3,890.8 95.0,894.8 96.9,898.8 98.8,902.9 100.8,906.9 102.8,910.9 105.0,914.9 107.2,918.9 109.5,922.9 111.8,926.9 114.3,930.8 116.8,934.8 119.4,938.8 122.1,942.7 124.9,946.7 127.7,950.6 130.6,954.6 133.6,958.5 136.7,962.4 139.8,966.3 143.0,970.2 146.3,974.1 149.7,978.0 153.1,981.9 156.7,985.7 160.3,989.6 164.0,993.4 167.7,997.2 171.6,1001.1 175.5,1004.8 179.5,1008.6 183.6,1012.4 187.7,1016.1 191.9,1019.9 196.3,1023.6 200.6,1027.3 205.1,1031.0 209.6,1034.6 214.2,1038.3 218.9,1041.9 223.7,1045.5 228.5,1049.1 233.4,1052.7 238.4,1056.2 243.5,1059.8 248.6,1063.3 253.8,1066.8 259.1,1070.2 264.4,1073.7 269.9,1077.1 275.4,1080.5 280.9,1083.9 286.6,1087.2 292.3,1090.6 298.1,1093.9 304.0,1097.1 309.9,1100.4 315.9,1103.6 322.0,1106.8 328.1,1110.0 334.3,1113.1 340.6,1116.2 346.9,1119.3 353.3,1122.4 359.8,1125.4 366.3,1128.4 373.0,1131.3 379.6,1134.3 386.4,1137.2 393.2,1140.0 400.0,1142.9 407.0,1145.7 414.0,1148.5 421.0,1151.2 428.1,1153.9 435.3,1156.6 442.5,1159.2 449.8,1161.8 457.2,1164.4 464.6,1166.9 472.0,1169.4 479.6,1171.8 487.1,1174.3 494.8,1176.6 502.4,1179.0 510.2,1181.3 518.0,1183.6 525.8,1185.8 533.7,1188.0 541.6,1190.1 549.6,1192.2 557.6,1194.3 565.7,1196.3 573.9,1198.3 582.0,1200.3 590.2,1202.2 598.5,1204.0 606.8,1205.8 615.1,1207.6 623.5,1209.3 632.0,1211.0"/></clipPath></defs>
<rect width="2560" height="1345" fill="#fff"/>
<polygon points="1843.3,661.9 1842.6,664.6 1841.9,667.4 1841.1,670.1 1840.3,672.8 1839.4,675.6 1838.5,678.3 1837.6,681.0 1836.6,683.8 1835.6,686.5 1834.5,689.2 1833.4,692.0 1832.3,694.7 1831.1,697.4 1829.9,700.2 1828.7,702.9 1827.4,705.6 1826.1,708.3 1824.7,711.1 1823.3,713.8 1821.8,716.5 1820.3,719.2 1818.8,722.0 1817.2,724.7 1815.6,727.4 1793.9,919.1 1796.1,915.1 1798.3,911.1 1800.4,907.1 1802.3,903.0 1804.3,899.0 1806.1,895.0 1807.9,891.0 1809.6,886.9 1811.2,882.9 1812.7,878.9 1814.2,874.8 1815.6,870.8 1816.9,866.8 1818.1,862.7 1819.3,858.7 1820.4,854.7 1821.4,850.6 1822.3,846.6 1823.2,842.6 1824.0,838.6 1824.7,834.5 1825.4,830.5 1825.9,826.5 1826.4,822.5" fill="url(#g_green)"/>
<polygon points="1815.6,727.4 1813.3,731.2 1810.9,735.0 1808.5,738.8 1805.9,742.6 1803.3,746.3 1800.6,750.1 1797.8,753.9 1794.9,757.6 1791.9,761.4 1788.9,765.1 1785.8,768.8 1782.6,772.6 1779.4,776.3 1776.0,780.0 1772.6,783.7 1769.1,787.4 1765.5,791.0 1761.8,794.7 1758.1,798.3 1754.3,802.0 1750.4,805.6 1746.4,809.2 1742.3,812.8 1738.2,816.4 1734.0,820.0 1729.7,823.5 1725.3,827.1 1720.9,830.6 1716.3,834.1 1711.7,837.6 1707.0,841.1 1702.3,844.5 1697.4,848.0 1692.5,851.4 1687.5,854.8 1682.4,858.2 1677.3,861.6 1672.1,864.9 1666.8,868.3 1661.4,871.6 1655.9,874.8 1650.4,878.1 1644.8,881.4 1639.1,884.6 1633.4,887.8 1627.5,890.9 1621.6,894.1 1615.7,897.2 1609.6,900.3 1603.5,903.4 1597.3,906.5 1591.1,909.5 1584.7,912.5 1578.3,915.5 1571.9,918.4 1565.3,921.3 1558.7,924.2 1552.0,927.1 1545.3,929.9 1538.5,932.7 1531.6,935.5 1524.7,938.2 1517.7,940.9 1510.6,943.6 1503.5,946.3 1496.2,948.9 1489.0,951.5 1481.7,954.0 1474.3,956.6 1466.8,959.0 1459.3,961.5 1451.8,963.9 1444.1,966.3 1436.4,968.7 1428.7,971.0 1420.9,973.3 1413.1,975.5 1405.2,977.7 1397.2,979.9 1389.2,982.0 1381.1,984.1 1373.0,986.2 1364.8,988.2 1356.6,990.2 1348.4,992.1 1340.1,994.1 1331.7,995.9 1323.3,997.8 1314.8,999.5 1306.3,1001.3 1297.8,1003.0 1289.2,1004.7 1280.6,1006.3 1272.0,1007.9 1263.3,1009.4 1254.5,1010.9 1245.7,1012.4 1236.9,1013.8 1228.1,1015.2 1219.2,1016.5 1210.3,1017.8 1201.4,1019.1 1192.4,1020.3 1183.4,1021.4 1174.3,1022.6 1165.3,1023.6 1156.2,1024.7 1147.1,1025.6 1137.9,1026.6 1128.8,1027.5 1119.6,1028.3 1110.4,1029.1 1101.2,1029.9 1091.9,1030.6 1082.7,1031.3 1073.4,1031.9 1064.1,1032.5 1054.8,1033.0 1045.5,1033.5 1036.1,1034.0 1026.8,1034.4 1017.4,1034.7 1008.1,1035.0 998.7,1035.3 989.4,1035.5 980.0,1035.7 970.6,1035.8 961.2,1035.9 951.8,1035.9 942.4,1035.9 933.1,1035.8 923.7,1035.7 914.3,1035.5 904.9,1035.3 895.6,1035.1 886.2,1034.8 876.8,1034.5 867.5,1034.1 858.2,1033.6 848.8,1033.2 839.5,1032.6 830.2,1032.1 821.0,1031.5 811.7,1030.8 802.4,1030.1 793.2,1029.3 784.0,1028.6 774.8,1027.7 765.6,1026.8 756.5,1025.9 747.4,1024.9 738.3,1023.9 729.2,1022.8 720.2,1021.7 711.2,1020.6 702.2,1019.4 693.2,1018.2 684.3,1016.9 675.4,1015.5 666.6,1014.2 657.8,1012.8 649.0,1011.3 640.2,1009.8 631.5,1008.3 622.8,1006.7 632.0,1211.0 640.4,1212.7 648.9,1214.3 657.4,1215.8 665.9,1217.4 674.5,1218.8 683.1,1220.2 691.7,1221.6 700.4,1223.0 709.1,1224.2 717.9,1225.5 726.6,1226.7 735.4,1227.8 744.2,1228.9 753.1,1230.0 761.9,1231.0 770.8,1232.0 779.7,1232.9 788.7,1233.8 797.6,1234.6 806.6,1235.4 815.6,1236.1 824.6,1236.8 833.6,1237.5 842.6,1238.1 851.7,1238.6 860.8,1239.1 869.8,1239.5 878.9,1239.9 888.0,1240.3 897.1,1240.6 906.2,1240.9 915.3,1241.1 924.4,1241.2 933.5,1241.4 942.7,1241.4 951.8,1241.4 960.9,1241.4 970.0,1241.3 979.1,1241.2 988.3,1241.0 997.4,1240.8 1006.5,1240.5 1015.6,1240.2 1024.7,1239.8 1033.7,1239.4 1042.8,1239.0 1051.9,1238.5 1060.9,1237.9 1069.9,1237.3 1079.0,1236.6 1088.0,1235.9 1097.0,1235.2 1105.9,1234.4 1114.9,1233.6 1123.8,1232.7 1132.7,1231.7 1141.6,1230.8 1150.4,1229.7 1159.3,1228.7 1168.1,1227.5 1176.9,1226.4 1185.6,1225.2 1194.4,1223.9 1203.1,1222.6 1211.7,1221.3 1220.4,1219.9 1229.0,1218.4 1237.5,1217.0 1246.1,1215.4 1254.6,1213.9 1263.0,1212.3 1271.4,1210.6 1279.8,1208.9 1288.2,1207.2 1296.5,1205.4 1304.7,1203.6 1313.0,1201.7 1321.1,1199.8 1329.3,1197.8 1337.4,1195.9 1345.4,1193.8 1353.4,1191.7 1361.3,1189.6 1369.2,1187.5 1377.1,1185.3 1384.9,1183.1 1392.6,1180.8 1400.3,1178.5 1408.0,1176.2 1415.6,1173.8 1423.1,1171.4 1430.6,1168.9 1438.0,1166.4 1445.4,1163.9 1452.7,1161.3 1460.0,1158.7 1467.2,1156.1 1474.3,1153.4 1481.4,1150.7 1488.4,1148.0 1495.4,1145.2 1502.3,1142.4 1509.1,1139.6 1515.9,1136.7 1522.6,1133.8 1529.2,1130.9 1535.8,1128.0 1542.3,1125.0 1548.7,1121.9 1555.1,1118.9 1561.4,1115.8 1567.7,1112.7 1573.9,1109.6 1580.0,1106.4 1586.0,1103.2 1592.0,1100.0 1597.9,1096.8 1603.7,1093.5 1609.5,1090.2 1615.2,1086.9 1620.8,1083.6 1626.3,1080.2 1631.8,1076.8 1637.2,1073.4 1642.5,1070.0 1647.8,1066.5 1653.0,1063.0 1658.1,1059.5 1663.1,1056.0 1668.1,1052.5 1673.0,1048.9 1677.8,1045.3 1682.5,1041.7 1687.2,1038.1 1691.8,1034.5 1696.3,1030.8 1700.7,1027.1 1705.1,1023.5 1709.4,1019.7 1713.6,1016.0 1717.7,1012.3 1721.8,1008.5 1725.8,1004.8 1729.7,1001.0 1733.5,997.2 1737.3,993.4 1740.9,989.6 1744.5,985.7 1748.0,981.9 1751.5,978.0 1754.9,974.2 1758.1,970.3 1761.4,966.4 1764.5,962.5 1767.6,958.6 1770.5,954.7 1773.4,950.8 1776.3,946.8 1779.0,942.9 1781.7,938.9 1784.3,935.0 1786.8,931.0 1789.2,927.0 1791.6,923.1 1793.9,919.1" fill="url(#g_red)"/>
<polygon points="622.8,1006.7 614.7,1005.2 606.6,1003.6 598.5,1002.0 590.5,1000.4 582.5,998.7 574.5,997.0 566.6,995.3 558.7,993.5 550.9,991.7 543.1,989.9 535.4,988.0 527.7,986.1 520.0,984.1 512.4,982.1 504.8,980.1 497.3,978.1 489.8,976.0 482.4,973.9 475.0,971.7 467.7,969.6 460.5,967.4 453.2,965.1 446.1,962.9 438.9,960.6 431.9,958.2 424.9,955.9 417.9,953.5 411.0,951.1 404.2,948.6 397.4,946.1 390.6,943.6 384.0,941.1 377.3,938.5 370.8,936.0 364.3,933.3 357.8,930.7 351.4,928.0 345.1,925.4 338.9,922.6 332.7,919.9 326.5,917.1 320.4,914.3 314.4,911.5 308.5,908.7 302.6,905.8 296.7,902.9 291.0,900.0 285.3,897.1 279.6,894.1 274.1,891.2 268.6,888.2 263.1,885.2 257.8,882.1 252.5,879.1 247.2,876.0 242.0,872.9 236.9,869.8 231.9,866.7 226.9,863.5 222.0,860.3 217.2,857.2 212.4,854.0 207.7,850.7 203.1,847.5 198.5,844.3 194.0,841.0 189.6,837.7 185.3,834.4 181.0,831.1 176.8,827.8 172.6,824.4 168.5,821.1 164.5,817.7 160.6,814.3 156.7,810.9 152.9,807.5 149.2,804.1 145.6,800.7 142.0,797.3 138.5,793.8 135.0,790.3 131.7,786.9 128.4,783.4 125.1,779.9 122.0,776.4 118.9,772.9 115.9,769.4 112.9,765.9 110.0,762.4 107.2,758.8 104.5,755.3 101.8,751.7 99.3,748.2 96.7,744.6 94.3,741.1 91.9,737.5 89.6,733.9 87.3,730.3 85.2,726.7 83.1,723.2 81.0,719.6 79.1,716.0 77.2,712.4 75.4,708.8 73.6,705.2 71.9,701.6 70.3,698.0 68.7,694.4 67.3,690.8 65.9,687.1 64.5,683.5 63.2,679.9 62.0,676.3 60.9,672.7 59.8,669.1 58.8,665.5 57.9,661.9 74.8,822.5 75.3,826.5 75.8,830.5 76.5,834.5 77.2,838.5 78.0,842.5 78.9,846.6 79.8,850.6 80.8,854.6 81.9,858.6 83.1,862.7 84.3,866.7 85.6,870.7 87.0,874.7 88.4,878.8 90.0,882.8 91.6,886.8 93.3,890.8 95.0,894.8 96.9,898.8 98.8,902.9 100.8,906.9 102.8,910.9 105.0,914.9 107.2,918.9 109.5,922.9 111.8,926.9 114.3,930.8 116.8,934.8 119.4,938.8 122.1,942.7 124.9,946.7 127.7,950.6 130.6,954.6 133.6,958.5 136.7,962.4 139.8,966.3 143.0,970.2 146.3,974.1 149.7,978.0 153.1,981.9 156.7,985.7 160.3,989.6 164.0,993.4 167.7,997.2 171.6,1001.1 175.5,1004.8 179.5,1008.6 183.6,1012.4 187.7,1016.1 191.9,1019.9 196.3,1023.6 200.6,1027.3 205.1,1031.0 209.6,1034.6 214.2,1038.3 218.9,1041.9 223.7,1045.5 228.5,1049.1 233.4,1052.7 238.4,1056.2 243.5,1059.8 248.6,1063.3 253.8,1066.8 259.1,1070.2 264.4,1073.7 269.9,1077.1 275.4,1080.5 280.9,1083.9 286.6,1087.2 292.3,1090.6 298.1,1093.9 304.0,1097.1 309.9,1100.4 315.9,1103.6 322.0,1106.8 328.1,1110.0 334.3,1113.1 340.6,1116.2 346.9,1119.3 353.3,1122.4 359.8,1125.4 366.3,1128.4 373.0,1131.3 379.6,1134.3 386.4,1137.2 393.2,1140.0 400.0,1142.9 407.0,1145.7 414.0,1148.5 421.0,1151.2 428.1,1153.9 435.3,1156.6 442.5,1159.2 449.8,1161.8 457.2,1164.4 464.6,1166.9 472.0,1169.4 479.6,1171.8 487.1,1174.3 494.8,1176.6 502.4,1179.0 510.2,1181.3 518.0,1183.6 525.8,1185.8 533.7,1188.0 541.6,1190.1 549.6,1192.2 557.6,1194.3 565.7,1196.3 573.9,1198.3 582.0,1200.3 590.2,1202.2 598.5,1204.0 606.8,1205.8 615.1,1207.6 623.5,1209.3 632.0,1211.0" fill="url(#g_blue)"/>
<polygon points="950.6,538.4 950.6,188.4 959.4,188.4 968.2,188.4 977.0,188.5 985.9,188.7 994.7,188.9 1003.5,189.1 1012.3,189.4 1021.1,189.7 1029.9,190.0 1038.6,190.4 1047.4,190.8 1056.2,191.3 1065.0,191.8 1073.7,192.3 1082.5,192.9 1091.2,193.6 1099.9,194.2 1108.6,195.0 1117.3,195.7 1126.0,196.5 1134.7,197.3 1143.3,198.2 1152.0,199.1 1160.6,200.1 1169.2,201.1 1177.8,202.1 1186.4,203.2 1195.0,204.3 1203.5,205.5 1212.0,206.7 1220.5,207.9 1229.0,209.2 1237.5,210.5 1245.9,211.9 1254.3,213.3 1262.7,214.7 1271.1,216.2 1279.4,217.7 1287.7,219.3 1296.0,220.9 1304.3,222.5 1312.5,224.2 1320.7,225.9 1328.8,227.7 1337.0,229.5 1345.1,231.3 1353.2,233.2 1361.2,235.1 1369.2,237.1 1377.2,239.1 1385.1,241.2 1393.0,243.2 1400.9,245.4 1408.7,247.5 1416.5,249.7 1424.3,252.0 1432.0,254.2 1439.6,256.5 1447.3,258.9 1454.8,261.3 1462.4,263.7 1469.9,266.2 1477.3,268.7 1484.7,271.3 1492.1,273.9 1499.4,276.5 1506.7,279.2 1513.9,281.9 1521.0,284.6 1528.2,287.4 1535.2,290.2 1542.2,293.1 1549.2,296.0 1556.1,298.9 1562.9,301.9 1569.7,304.9 1576.5,307.9 1583.1,311.0 1589.7,314.1 1596.3,317.3 1602.8,320.5 1609.2,323.7 1615.6,327.0 1621.9,330.3 1628.2,333.6 1634.3,337.0 1640.4,340.4 1646.5,343.9 1652.5,347.3 1658.4,350.9 1664.2,354.4 1670.0,358.0 1675.7,361.6 1681.3,365.3 1686.8,369.0 1692.3,372.7 1697.7,376.5 1703.0,380.3 1708.3,384.1 1713.5,387.9 1718.5,391.8 1723.5,395.8 1728.5,399.7 1733.3,403.7 1738.1,407.7 1742.7,411.8 1747.3,415.9 1751.8,420.0 1756.2,424.1 1760.6,428.3 1764.8,432.5 1768.9,436.7 1773.0,441.0 1777.0,445.3 1780.8,449.6 1784.6,454.0 1788.3,458.4 1791.8,462.8 1795.3,467.2 1798.7,471.6 1802.0,476.1 1805.2,480.6 1808.3,485.2 1811.2,489.7 1814.1,494.3 1816.9,498.9 1819.5,503.6 1822.1,508.2 1824.6,512.9 1826.9,517.6 1829.1,522.3 1831.3,527.1 1833.3,531.9 1835.2,536.6 1836.9,541.4 1838.6,546.3 1840.2,551.1 1841.6,556.0 1842.9,560.9 1844.1,565.8 1845.2,570.7 1846.2,575.6 1847.0,580.5 1847.8,585.5 1848.4,590.5 1848.8,595.5 1849.2,600.5 1849.4,605.5 1849.5,610.5 1849.5,615.5 1849.4,620.6 1849.1,625.6 1848.7,630.7 1848.1,635.7 1847.5,640.8 1846.7,645.9 1845.8,651.0 1844.7,656.1 1843.5,661.2 1842.2,666.3 1840.7,671.4 1839.1,676.5 1837.4,681.6 1835.5,686.7 1833.5,691.8 1831.4,696.9 1829.1,702.0 1826.7,707.1 1824.1,712.2 1821.4,717.3 1818.6,722.3 1815.6,727.4" fill="#E0EBD6"/>
<polygon points="950.6,538.4 1815.6,727.4 1812.5,732.5 1809.3,737.5 1805.9,742.5 1802.4,747.6 1798.7,752.6 1794.9,757.6 1791.0,762.5 1786.9,767.5 1782.7,772.5 1778.3,777.4 1773.8,782.3 1769.2,787.2 1764.4,792.1 1759.5,797.0 1754.4,801.8 1749.2,806.7 1743.9,811.5 1738.4,816.2 1732.8,821.0 1727.0,825.7 1721.1,830.4 1715.1,835.1 1708.9,839.7 1702.6,844.3 1696.1,848.9 1689.5,853.4 1682.8,858.0 1675.9,862.4 1669.0,866.9 1661.8,871.3 1654.6,875.7 1647.2,880.0 1639.6,884.3 1632.0,888.5 1624.2,892.8 1616.3,896.9 1608.2,901.1 1600.0,905.1 1591.7,909.2 1583.3,913.2 1574.7,917.1 1566.1,921.0 1557.3,924.8 1548.4,928.6 1539.3,932.4 1530.2,936.1 1520.9,939.7 1511.5,943.3 1502.0,946.8 1492.4,950.3 1482.7,953.7 1472.8,957.0 1462.9,960.3 1452.9,963.6 1442.7,966.8 1432.5,969.9 1422.1,972.9 1411.7,975.9 1401.1,978.8 1390.5,981.7 1379.8,984.5 1368.9,987.2 1358.0,989.9 1347.0,992.5 1335.9,995.0 1324.8,997.4 1313.5,999.8 1302.2,1002.1 1290.8,1004.4 1279.4,1006.5 1267.8,1008.6 1256.2,1010.7 1244.5,1012.6 1232.8,1014.5 1221.0,1016.3 1209.1,1018.0 1197.2,1019.6 1185.3,1021.2 1173.2,1022.7 1161.2,1024.1 1149.1,1025.4 1136.9,1026.7 1124.7,1027.9 1112.5,1029.0 1100.2,1030.0 1087.9,1030.9 1075.6,1031.8 1063.2,1032.6 1050.8,1033.3 1038.4,1033.9 1026.0,1034.4 1013.5,1034.9 1001.1,1035.2 988.6,1035.5 976.1,1035.7 963.6,1035.8 951.1,1035.9 938.7,1035.9 926.2,1035.7 913.7,1035.5 901.2,1035.3 888.8,1034.9 876.3,1034.4 863.9,1033.9 851.5,1033.3 839.1,1032.6 826.7,1031.8 814.4,1031.0 802.1,1030.1 789.8,1029.1 777.6,1028.0 765.4,1026.8 753.2,1025.5 741.1,1024.2 729.0,1022.8 717.0,1021.3 705.0,1019.8 693.1,1018.1 681.2,1016.4 669.4,1014.6 657.7,1012.8 646.0,1010.8 634.4,1008.8 622.8,1006.7" fill="#F90000"/>
<polygon points="950.6,538.4 622.8,1006.7 611.4,1004.6 600.0,1002.3 588.7,1000.0 577.5,997.7 566.3,995.2 555.2,992.7 544.3,990.1 533.4,987.5 522.5,984.8 511.8,982.0 501.2,979.1 490.7,976.2 480.2,973.2 469.9,970.2 459.6,967.1 449.5,963.9 439.4,960.7 429.5,957.4 419.7,954.1 410.0,950.7 400.4,947.2 390.9,943.7 381.5,940.1 372.2,936.5 363.0,932.8 354.0,929.1 345.1,925.3 336.3,921.5 327.6,917.6 319.1,913.7 310.6,909.7 302.3,905.7 294.1,901.6 286.1,897.5 278.2,893.4 270.4,889.2 262.7,884.9 255.1,880.6 247.7,876.3 240.5,872.0 233.3,867.6 226.3,863.1 219.5,858.7 212.7,854.2 206.1,849.6 199.6,845.1 193.3,840.5 187.1,835.8 181.1,831.2 175.2,826.5 169.4,821.8 163.7,817.0 158.3,812.3 152.9,807.5 147.7,802.7 142.6,797.8 137.7,793.0 132.9,788.1 128.2,783.2 123.7,778.3 119.3,773.4 115.1,768.4 111.0,763.5 107.0,758.5 103.2,753.5 99.5,748.5 96.0,743.5 92.6,738.5 89.3,733.5 86.2,728.4 83.2,723.4 80.3,718.3 77.6,713.2 75.1,708.2 72.6,703.1 70.3,698.0 68.2,693.0 66.1,687.9 64.3,682.8 62.5,677.7 60.9,672.6 59.4,667.6 58.0,662.5 56.8,657.4 55.7,652.3 54.8,647.3 53.9,642.2 53.2,637.2 52.7,632.1 52.2,627.1 51.9,622.1 51.7,617.0 51.7,612.0 51.7,607.0 51.9,602.0 52.2,597.1 52.7,592.1 53.2,587.1 53.9,582.2 54.7,577.3 55.6,572.4 56.7,567.5 57.8,562.6 59.1,557.7 60.5,552.9 62.0,548.0 63.6,543.2 65.4,538.4 67.2,533.7 69.2,528.9 71.2,524.2 73.4,519.5 75.7,514.8 78.1,510.1 80.6,505.5 83.2,500.8 85.9,496.2 88.7,491.7 91.7,487.1 94.7,482.6 97.8,478.1 101.0,473.6 104.4,469.2 107.8,464.7 111.3,460.3 114.9,456.0 118.6,451.6 122.4,447.3 126.3,443.0 130.3,438.8 134.4,434.5 138.6,430.3 142.8,426.2 147.2,422.0 151.6,417.9 156.1,413.8 160.7,409.8 165.4,405.8 170.2,401.8 175.1,397.8 180.0,393.9 185.0,390.0 190.1,386.2 195.3,382.3 200.6,378.5 205.9,374.8 211.3,371.0 216.8,367.4 222.3,363.7 228.0,360.1 233.7,356.5 239.4,352.9 245.3,349.4 251.2,345.9 257.2,342.5 263.2,339.0 269.3,335.7 275.5,332.3 281.7,329.0 288.0,325.7 294.4,322.5 300.8,319.3 307.3,316.1 313.9,313.0 320.5,309.9 327.1,306.8 333.9,303.8 340.6,300.8 347.5,297.9 354.4,295.0 361.3,292.1 368.3,289.3 375.3,286.5 382.4,283.7 389.6,281.0 396.8,278.3 404.0,275.7 411.3,273.1 418.7,270.5 426.0,268.0 433.5,265.5 440.9,263.0 448.5,260.6 456.0,258.3 463.6,255.9 471.3,253.6 479.0,251.4 486.7,249.1 494.4,247.0 502.2,244.8 510.1,242.7 517.9,240.7 525.9,238.6 533.8,236.7 541.8,234.7 549.8,232.8 557.8,230.9 565.9,229.1 574.0,227.3 582.2,225.6 590.3,223.9 598.5,222.2 606.7,220.6 615.0,219.0 623.3,217.4 631.6,215.9 639.9,214.5 648.2,213.0 656.6,211.7 665.0,210.3 673.4,209.0 681.9,207.7 690.4,206.5 698.8,205.3 707.3,204.2 715.9,203.1 724.4,202.0 733.0,201.0 741.5,200.0 750.1,199.0 758.7,198.1 767.4,197.3 776.0,196.4 784.6,195.6 793.3,194.9 802.0,194.2 810.7,193.5 819.4,192.9 828.1,192.3 836.8,191.8 845.5,191.3 854.2,190.8 863.0,190.4 871.7,190.0 880.5,189.6 889.2,189.3 898.0,189.1 906.7,188.9 915.5,188.7 924.3,188.5 933.1,188.4 941.8,188.4 950.6,188.4" fill="#2F5597"/>
<g clip-path="url(#pieclip)" stroke="#fff" stroke-width="3.5" stroke-linecap="butt" stroke-linejoin="round"><line x1="950.6" y1="538.4" x2="950.6" y2="188.4"/>
<line x1="950.6" y1="538.4" x2="1815.6" y2="727.4"/>
<line x1="950.6" y1="538.4" x2="622.8" y2="1006.7"/>
<line x1="1815.6" y1="727.4" x2="1793.9" y2="919.1"/>
<line x1="622.8" y1="1006.7" x2="632.0" y2="1211.0"/>
<polyline points="1843.3,661.9 1842.3,665.6 1841.3,669.4 1840.2,673.1 1839.0,676.8 1837.7,680.6 1836.4,684.3 1835.0,688.1 1833.5,691.8 1831.9,695.6 1830.3,699.3 1828.6,703.0 1826.8,706.8 1825.0,710.5 1823.1,714.2 1821.1,718.0 1819.0,721.7 1816.8,725.4 1814.6,729.1 1812.3,732.8 1809.9,736.5 1807.5,740.2 1804.9,743.9 1802.3,747.6 1799.7,751.3 1796.9,755.0 1794.1,758.7 1791.2,762.3 1788.2,766.0 1785.1,769.6 1782.0,773.3 1778.8,776.9 1775.5,780.5 1772.1,784.2 1768.7,787.8 1765.2,791.3 1761.6,794.9 1757.9,798.5 1754.2,802.1 1750.4,805.6 1746.5,809.1 1742.5,812.7 1738.5,816.2 1734.3,819.7 1730.1,823.2 1725.9,826.6 1721.5,830.1 1717.1,833.5 1712.6,836.9 1708.0,840.3 1703.4,843.7 1698.7,847.1 1693.9,850.5 1689.0,853.8 1684.1,857.1 1679.1,860.4 1674.0,863.7 1668.8,867.0 1663.6,870.2 1658.3,873.4 1652.9,876.6 1647.4,879.8 1641.9,883.0 1636.3,886.1 1630.7,889.3 1624.9,892.3 1619.1,895.4 1613.3,898.5 1607.3,901.5 1601.3,904.5 1595.2,907.5 1589.1,910.4 1582.9,913.4 1576.6,916.3 1570.2,919.1 1563.8,922.0 1557.3,924.8 1550.8,927.6 1544.2,930.4 1537.5,933.1 1530.8,935.8 1524.0,938.5 1517.1,941.2 1510.2,943.8 1503.2,946.4 1496.1,948.9 1489.0,951.5 1481.9,954.0 1474.6,956.4 1467.4,958.9 1460.0,961.3 1452.6,963.7 1445.2,966.0 1437.7,968.3 1430.1,970.6 1422.5,972.8 1414.8,975.0 1407.1,977.2 1399.3,979.3 1391.5,981.4 1383.6,983.5 1375.7,985.5 1367.7,987.5 1359.7,989.5 1351.6,991.4 1343.5,993.3 1335.3,995.1 1327.1,996.9 1318.9,998.7 1310.6,1000.4 1302.3,1002.1 1293.9,1003.8 1285.5,1005.4 1277.0,1007.0 1268.5,1008.5 1260.0,1010.0 1251.5,1011.5 1242.9,1012.9 1234.2,1014.2 1225.6,1015.6 1216.9,1016.9 1208.1,1018.1 1199.4,1019.3 1190.6,1020.5 1181.8,1021.6 1172.9,1022.7 1164.1,1023.8 1155.2,1024.8 1146.2,1025.7 1137.3,1026.7 1128.3,1027.5 1119.3,1028.4 1110.3,1029.1 1101.3,1029.9 1092.3,1030.6 1083.2,1031.3 1074.1,1031.9 1065.0,1032.4 1055.9,1033.0 1046.8,1033.5 1037.7,1033.9 1028.6,1034.3 1019.4,1034.6 1010.2,1035.0 1001.1,1035.2 991.9,1035.4 982.7,1035.6 973.6,1035.8 964.4,1035.8 955.2,1035.9 946.0,1035.9 936.8,1035.8 927.6,1035.8 918.5,1035.6 909.3,1035.4 900.1,1035.2 891.0,1035.0 881.8,1034.6 872.6,1034.3 863.5,1033.9 854.4,1033.5 845.3,1033.0 836.2,1032.4 827.1,1031.9 818.0,1031.3 808.9,1030.6 799.9,1029.9 790.9,1029.1 781.9,1028.4 772.9,1027.5 763.9,1026.7 755.0,1025.7 746.0,1024.8 737.1,1023.8 728.3,1022.7 719.4,1021.6 710.6,1020.5 701.8,1019.3 693.1,1018.1 684.3,1016.9 675.6,1015.6 667.0,1014.2 658.3,1012.9 649.7,1011.5 641.2,1010.0 632.7,1008.5 624.2,1007.0 615.7,1005.4 607.3,1003.8 598.9,1002.1 590.6,1000.4 582.3,998.7 574.1,996.9 565.9,995.1 557.7,993.3 549.6,991.4 541.5,989.5 533.5,987.5 525.5,985.5 517.6,983.5 509.7,981.4 501.9,979.3 494.1,977.2 486.4,975.0 478.7,972.8 471.1,970.6 463.5,968.3 456.0,966.0 448.6,963.7 441.2,961.3 433.8,958.9 426.6,956.4 419.3,954.0 412.2,951.5 405.1,948.9 398.0,946.4 391.0,943.8 384.1,941.2 377.2,938.5 370.4,935.8 363.7,933.1 357.0,930.4 350.4,927.6 343.9,924.8 337.4,922.0 331.0,919.1 324.6,916.3 318.3,913.4 312.1,910.4 306.0,907.5 299.9,904.5 293.9,901.5 287.9,898.5 282.1,895.4 276.3,892.3 270.5,889.3 264.9,886.1 259.3,883.0 253.8,879.8 248.3,876.6 242.9,873.4 237.6,870.2 232.4,867.0 227.2,863.7 222.1,860.4 217.1,857.1 212.2,853.8 207.3,850.5 202.5,847.1 197.8,843.7 193.2,840.3 188.6,836.9 184.1,833.5 179.7,830.1 175.3,826.6 171.1,823.2 166.9,819.7 162.7,816.2 158.7,812.7 154.7,809.1 150.8,805.6 147.0,802.1 143.3,798.5 139.6,794.9 136.0,791.3 132.5,787.8 129.1,784.2 125.7,780.5 122.4,776.9 119.2,773.3 116.1,769.6 113.0,766.0 110.0,762.3 107.1,758.7 104.3,755.0 101.5,751.3 98.9,747.6 96.3,743.9 93.7,740.2 91.3,736.5 88.9,732.8 86.6,729.1 84.4,725.4 82.2,721.7 80.1,718.0 78.1,714.2 76.2,710.5 74.4,706.8 72.6,703.0 70.9,699.3 69.3,695.6 67.7,691.8 66.2,688.1 64.8,684.3 63.5,680.6 62.2,676.8 61.0,673.1 59.9,669.4 58.9,665.6 57.9,661.9" fill="none"/></g>
<text x="726.63" y="64.8" font-size="53" fill="#000" textLength="490.13" lengthAdjust="spacingAndGlyphs">Sozialhilfeempfänger</text>
<text x="1229.41" y="64.8" font-size="53" fill="#000" textLength="43.21" lengthAdjust="spacingAndGlyphs">in</text>
<text x="1286.45" y="64.8" font-size="53" fill="#000" textLength="78.37" lengthAdjust="spacingAndGlyphs">der</text>
<text x="1376.16" y="64.8" font-size="53" fill="#000" textLength="186.98" lengthAdjust="spacingAndGlyphs">Schweiz</text>
<text x="1577.4" y="64.8" font-size="53" fill="#000" textLength="112.61" lengthAdjust="spacingAndGlyphs">(Jahr</text>
<text x="1702.67" y="64.8" font-size="53" fill="#000" textLength="132.62" lengthAdjust="spacingAndGlyphs">2023)</text>
<text x="1969.45" y="599.8" font-size="33.6" fill="#595959" textLength="151.22" lengthAdjust="spacingAndGlyphs">Schweizer</text>
<text x="1969.93" y="714" font-size="33.6" fill="#595959" textLength="249.25" lengthAdjust="spacingAndGlyphs">Niedergelassene</text>
<text x="2228.4" y="714" font-size="33.6" fill="#595959" textLength="160.21" lengthAdjust="spacingAndGlyphs">Ausländer,</text>
<text x="2397.15" y="714" font-size="33.6" fill="#595959" textLength="76.12" lengthAdjust="spacingAndGlyphs">Kurz-</text>
<text x="2482.28" y="714" font-size="33.6" fill="#595959" textLength="59.37" lengthAdjust="spacingAndGlyphs">und</text>
<text x="1968.98" y="759" font-size="33.6" fill="#595959" textLength="283.16" lengthAdjust="spacingAndGlyphs">Jahresaufenthalter</text>
<text x="1970.9" y="827.8" font-size="33.6" fill="#595959" textLength="248.51" lengthAdjust="spacingAndGlyphs">Asylbevölkerung</text>
<text x="2227.36" y="827.8" font-size="33.6" fill="#595959" textLength="43.42" lengthAdjust="spacingAndGlyphs">(N,</text>
<text x="2279.13" y="827.8" font-size="33.6" fill="#595959" textLength="26.45" lengthAdjust="spacingAndGlyphs">S,</text>
<text x="2313.46" y="827.8" font-size="33.6" fill="#595959" textLength="27.3" lengthAdjust="spacingAndGlyphs">F,</text>
<text x="2349.19" y="827.8" font-size="33.6" fill="#595959" textLength="29.18" lengthAdjust="spacingAndGlyphs">B)</text>
<text x="1236.02" y="465.2" font-size="76" font-weight="bold" fill="#fff" textLength="142.77" lengthAdjust="spacingAndGlyphs">32%</text>
<text x="449.46" y="538.5" font-size="76" font-weight="bold" fill="#fff" textLength="143.55" lengthAdjust="spacingAndGlyphs">45%</text>
<text x="1061.47" y="768.3" font-size="76" font-weight="bold" fill="#fff" textLength="143.74" lengthAdjust="spacingAndGlyphs">23%</text>
<rect x="1945.5" y="584" width="11.5" height="11.5" fill="#E0EBD6"/>
<rect x="1945.5" y="697.5" width="11.5" height="11.5" fill="#F90000"/>
<rect x="1945.5" y="811.5" width="11.5" height="11.5" fill="#2F5597"/>
</svg>
</body></html>
